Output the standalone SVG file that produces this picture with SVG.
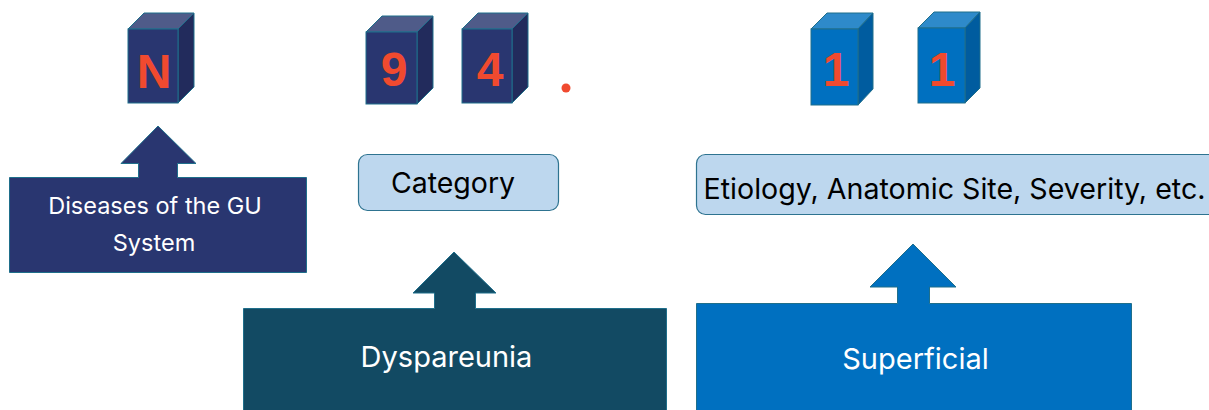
<svg xmlns="http://www.w3.org/2000/svg" width="1209" height="410" viewBox="0 0 1209 410">
<style>
.edge{stroke:#1f6f8b;stroke-width:1;stroke-linejoin:miter}
.nf{fill:#293670}.nt{fill:#4f5b89}.nr{fill:#222b5c}
.bf{fill:#0070c0}.bt{fill:#2e8aca}.br{fill:#005c9f}
.dig{font-family:"Liberation Sans",Arial,sans-serif;font-weight:bold;font-size:48px;fill:#f04a2f;text-anchor:middle}
.lbl{font-family:Inter,"Noto Sans",sans-serif;text-anchor:middle}
.light{fill:#bdd7ee;stroke:#2e7390;stroke-width:1.2}
</style>
<rect width="1209" height="410" fill="#ffffff"/>
<g id="cube-N">
<polygon class="nt edge" points="128,29 144,13 194,13 178,29"/>
<polygon class="nr edge" points="178,29 194,13 194,87 178,103"/>
<rect class="nf edge" x="128" y="29" width="50" height="74"/>
<text class="dig" x="154" y="88">N</text>
</g>
<g id="cube-9">
<polygon class="nt edge" points="366,32 382,16 433,16 417,32"/>
<polygon class="nr edge" points="417,32 433,16 433,88 417,104"/>
<rect class="nf edge" x="366" y="32" width="51" height="72"/>
<text class="dig" x="394" y="86">9</text>
</g>
<g id="cube-4">
<polygon class="nt edge" points="462,29 478,13 528,13 512,29"/>
<polygon class="nr edge" points="512,29 528,13 528,87 512,103"/>
<rect class="nf edge" x="462" y="29" width="50" height="74"/>
<text class="dig" x="490" y="86">4</text>
</g>
<circle id="dot" cx="566" cy="88" r="4.5" fill="#f04a2f"/>
<g id="cube-1a">
<polygon class="bt edge" points="811,29 827,13 873,13 858,29"/>
<polygon class="br edge" points="858,29 873,13 873,89 858,105"/>
<rect class="bf edge" x="811" y="29" width="47" height="76"/>
<text class="dig" x="836" y="86">1</text>
</g>
<g id="cube-1b">
<polygon class="bt edge" points="918,28 934,12 980,12 965,28"/>
<polygon class="br edge" points="965,28 980,12 980,88 965,103"/>
<rect class="bf edge" x="918" y="28" width="47" height="75"/>
<text class="dig" x="942" y="86">1</text>
</g>
<g id="category">
<rect class="light" x="358.5" y="154.5" width="200" height="56" rx="9"/>
<text class="lbl" x="453" y="193" font-size="28.5" fill="#000000">Category</text>
</g>
<g id="etiology">
<rect class="light" x="696.5" y="154.5" width="530" height="60" rx="9"/>
<text class="lbl" x="954.5" y="199" font-size="28.6" fill="#000000">Etiology, Anatomic Site, Severity, etc.</text>
</g>
<g id="diseases">
<path class="edge" fill="#293670" d="M9.5,177.5 H138.5 V163.5 H121 L158,126 L196,163.5 H177.5 V177.5 H306.5 V272.5 H9.5 Z"/>
<text class="lbl" x="155" y="214" font-size="23.5" fill="#ffffff">Diseases of the GU</text>
<text class="lbl" x="154" y="251" font-size="23.5" fill="#ffffff">System</text>
</g>
<g id="dyspareunia">
<path class="edge" fill="#124a63" d="M243.5,308.5 H434.5 V293 H413 L454,252 L496,293 H475.5 V308.5 H666.5 V412 H243.5 Z"/>
<text class="lbl" x="446.5" y="367" font-size="29" fill="#ffffff">Dyspareunia</text>
</g>
<g id="superficial">
<path class="edge" fill="#0070c0" d="M696.5,303.5 H897.5 V287 H870 L913,244 L956,287 H929.5 V303.5 H1131.5 V412 H696.5 Z"/>
<text class="lbl" x="915.5" y="369" font-size="29" fill="#ffffff">Superficial</text>
</g>
<g id="connectors"></g>
</svg>
